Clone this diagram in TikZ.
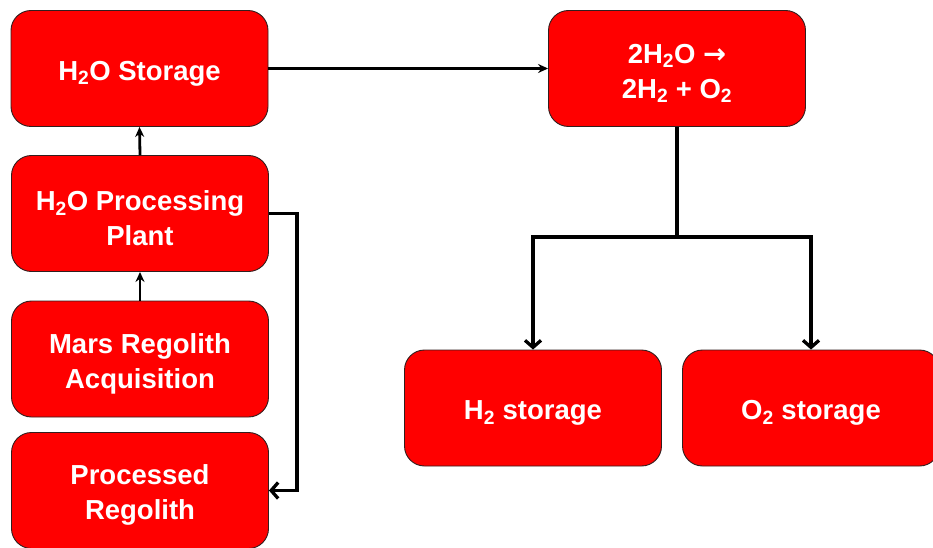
\documentclass[tikz,border=0pt]{standalone}
\usepackage{fontspec}
\setmainfont{Liberation Sans}
\newfontfamily\arrowfont{DejaVu Sans}
\usetikzlibrary{arrows.meta}
\definecolor{boxred}{RGB}{255,0,0}
\definecolor{boxedge}{RGB}{50,30,30}
\newcommand{\subs}[1]{\textsubscript{#1}}
\newcommand{\dn}{\rule{0pt}{29pt}}
\begin{document}
\begin{tikzpicture}[x=1pt,y=-1pt,
  box/.style={draw=boxedge, line width=0.9pt, fill=boxred, rounded corners=20pt,
    text=white, font=\fontsize{27.5}{35}\selectfont\bfseries, align=center,
    inner sep=0pt, minimum width=257pt, minimum height=116pt},
  thin/.style={line width=2.8pt, -{Stealth[length=10pt,width=9pt]}},
  thick/.style={line width=3.6pt, -{Straight Barb[length=7pt,width=16pt,line width=3.3pt]}},
  plain/.style={line width=3.6pt}]
\useasboundingbox (0,0) rectangle (933,548);
\node[box] (store) at (139.5,68.5) {\dn H\subs{2}O Storage};
\node[box] (plant) at (140,213.5) {\dn H\subs{2}O Processing\\Plant};
\node[box] (mars) at (140,359) {\dn Mars Regolith\\Acquisition};
\node[box] (proc) at (140,490.5) {\dn Processed\\Regolith};
\node[box] (react) at (677,68.5) {\dn 2H\subs{2}O {\arrowfont →}\\2H\subs{2} + O\subs{2}};
\node[box] (h2) at (533,408) {\dn H\subs{2} storage};
\node[box] (o2) at (811,408) {\dn O\subs{2} storage};
\coordinate (split) at (677,237);
\coordinate (bend) at (297,213.5);
\draw[thin] (plant.north) -- (store.south);
\draw[thin] (mars.north) -- (plant.south);
\draw[thin] (store.east) -- (react.west);
\draw[thick] (plant.east) -- (bend) |- (proc.east);
\draw[plain] (react.south) -- (split);
\draw[thick] (split) -| (h2.north);
\draw[thick] (split) -| (o2.north);
\end{tikzpicture}
\end{document}
